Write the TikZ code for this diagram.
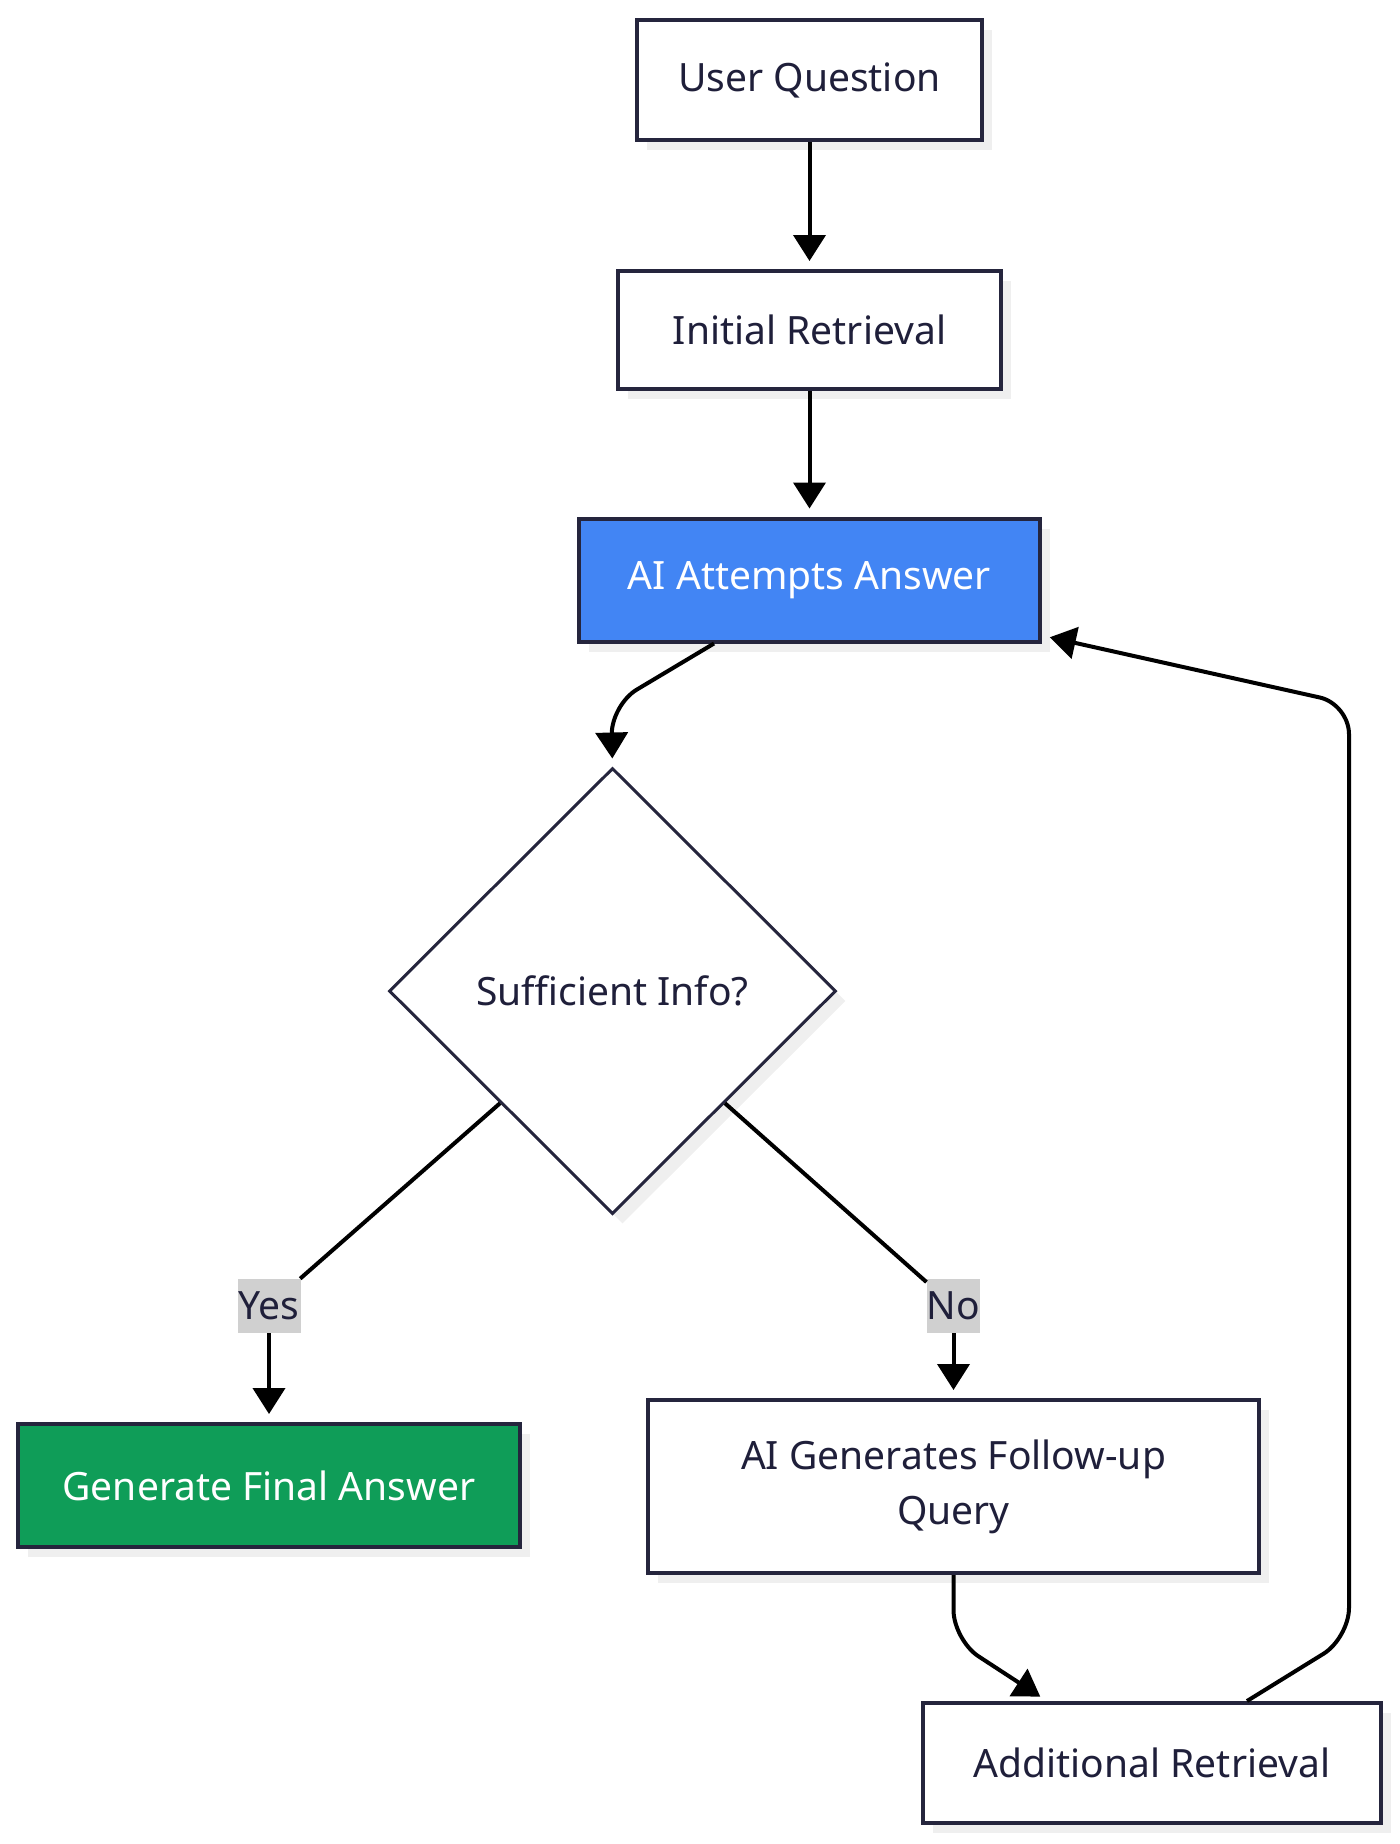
\documentclass[tikz,border=0pt]{standalone}
\usepackage{fontspec}
\setmainfont{Noto Sans}
\usetikzlibrary{arrows.meta,calc,shapes.geometric,shadows}
\definecolor{EdgeInk}{HTML}{25253D}
\definecolor{TextInk}{HTML}{1F1F3A}
\definecolor{AttemptBlue}{HTML}{4285F4}
\definecolor{FinalGreen}{HTML}{0F9D58}
\definecolor{LabelGray}{HTML}{D0D0D0}
\definecolor{ShadowGray}{HTML}{EFEFEF}

\begin{document}
\begin{tikzpicture}[
    x=0.5pt,y=-0.5pt,
    every node/.style={font=\fontsize{19.5pt}{27.5pt}\selectfont,text=TextInk},
    shade/.style={drop shadow={shadow xshift=5pt,shadow yshift=-5pt,fill=ShadowGray,opacity=1}},
    box/.style={draw=EdgeInk,fill=white,line width=2pt,align=center,inner sep=0pt,shade},
    decision/.style={diamond,aspect=1,draw=EdgeInk,fill=white,line width=1.5pt,inner sep=0pt,shade},
    tag/.style={fill=LabelGray,inner sep=0pt},
    arr/.style={-{Triangle[length=13pt,width=16pt]},black,line width=2pt,shorten >=4pt},
    link/.style={black,line width=2pt}
  ]
    \useasboundingbox (0,0) rectangle (1400,1844);
    \node[box,minimum width=172.5pt,minimum height=60pt] (question) at (809.5,80) {User Question};
    \node[box,minimum width=191.5pt,minimum height=59pt] (initial) at (809.5,330) {Initial Retrieval};
    \node[box,fill=AttemptBlue,text=white,minimum width=230.5pt,minimum height=61.5pt] (attempt) at (809.5,580) {AI Attempts Answer};
    \node[decision,minimum width=223.5pt,minimum height=223pt] (enough) at (612.5,991) {Sufficient Info?};
    \node[box,fill=FinalGreen,text=white,minimum width=251pt,minimum height=61.5pt] (final) at (269,1485.5) {Generate Final Answer};
    \node[box,minimum width=305.5pt,minimum height=86.5pt] (followup) at (953.5,1486.5) {AI Generates Follow-up\\Query};
    \node[box,minimum width=229pt,minimum height=60pt] (extra) at (1152,1763) {Additional Retrieval};
    \node[tag,minimum width=31.5pt,minimum height=27pt] (yes) at (269,1306) {Yes};
    \node[tag,minimum width=23.5pt,minimum height=27pt] (no) at (953.5,1306) {No};

    \draw[arr] (question) -- (initial);
    \draw[arr] (initial) -- (attempt);
    \draw[arr,rounded corners=15pt] ($(attempt.south)+(-95.5,0)$) -- (611,705) -- (enough.north);
    \draw[link] (enough.south west) -- (yes);
    \draw[arr] (yes) -- (final);
    \draw[link] (enough.south east) -- (no);
    \draw[arr] (no) -- (followup);
    \draw[arr,rounded corners=15pt] (followup.south) -- (953.5,1640) -- ($(extra.north)+(-105,0)$);
    \draw[arr,rounded corners=15pt] ($(extra.north)+(95,0)$) -- (1349,1638) -- (1349,704) -- ($(attempt.south east)+(0,-8)$);
  \end{tikzpicture}
\end{document}
